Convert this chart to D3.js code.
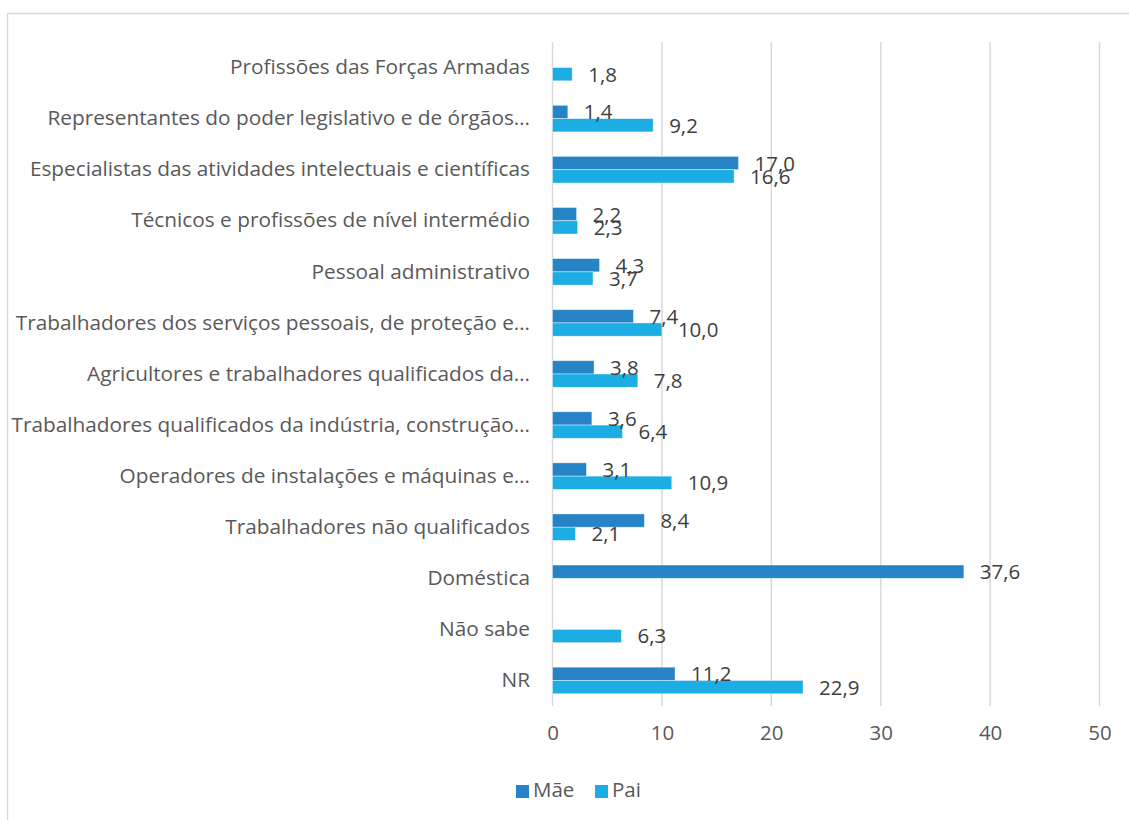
<!DOCTYPE html>
<html><head><meta charset="utf-8">
<script src="https://cdn.jsdelivr.net/npm/d3@7"></script>
<style>body{margin:0;background:#fff;} text{font-family:"Open Sans",sans-serif;}</style>
</head><body>
<svg id="c" width="1129" height="820"></svg>
<script>
const categories = [
  "Profissões das Forças Armadas",
  "Representantes do poder legislativo e de órgãos…",
  "Especialistas das atividades intelectuais e científicas",
  "Técnicos e profissões de nível intermédio",
  "Pessoal administrativo",
  "Trabalhadores dos serviços pessoais, de proteção e…",
  "Agricultores e trabalhadores qualificados da…",
  "Trabalhadores qualificados da indústria, construção…",
  "Operadores de instalações e máquinas e…",
  "Trabalhadores não qualificados",
  "Doméstica",
  "Não sabe",
  "NR"
];
const mae = [null, 1.4, 17.0, 2.2, 4.3, 7.4, 3.8, 3.6, 3.1, 8.4, 37.6, null, 11.2];
const pai = [1.8, 9.2, 16.6, 2.3, 3.7, 10.0, 7.8, 6.4, 10.9, 2.1, null, 6.3, 22.9];
const seriesNames = ["Mãe", "Pai"];
const seriesColors = ["#2683C6", "#1CADE4"];
const xTicks = [0, 10, 20, 30, 40, 50];

const svg = d3.select("#c");
// outer frame
svg.append("rect").attr("x", 7.5).attr("y", 13.5).attr("width", 1140).attr("height", 830)
  .attr("fill", "none").attr("stroke", "#d9d9d9").attr("stroke-width", 1.5);

const x = d3.scaleLinear().domain([0, 50]).range([552.5, 1099.5]);
const y = d3.scaleBand().domain(categories).range([42, 706]).paddingInner(0.48).paddingOuter(0.24);
const y1 = d3.scaleBand().domain(seriesNames).range([0, y.bandwidth()]);

// gridlines
svg.append("g").selectAll("line").data(xTicks).join("line")
  .attr("x1", d => x(d)).attr("x2", d => x(d)).attr("y1", 42).attr("y2", 706)
  .attr("stroke", "#d9d9d9").attr("stroke-width", 1.5);

// x axis labels
const xAxis = d3.axisBottom(x).tickValues(xTicks).tickSize(0).tickPadding(0).tickFormat(d3.format("d"));
const gx = svg.append("g").attr("transform", "translate(0,725)").call(xAxis);
gx.select(".domain").remove();
gx.selectAll("text").attr("fill", "#595959").style("font-size", "20.5px").attr("dy", "0.71em");

// y axis labels
const yAxis = d3.axisLeft(y).tickSize(0).tickPadding(0);
const gy = svg.append("g").attr("transform", "translate(530,0)").call(yAxis);
gy.select(".domain").remove();
gy.selectAll("text").attr("fill", "#595959").style("font-size", "20.8px");

const data = categories.map((c, i) => ({cat: c, vals: [
  {s: "Mãe", v: mae[i], color: seriesColors[0]},
  {s: "Pai", v: pai[i], color: seriesColors[1]}
].filter(d => d.v !== null)}));

const groups = svg.append("g").selectAll("g").data(data).join("g")
  .attr("transform", d => `translate(0,${y(d.cat)})`);

groups.selectAll("rect").data(d => d.vals).join("rect")
  .attr("x", x(0)).attr("y", d => y1(d.s)).attr("width", d => x(d.v) - x(0)).attr("height", y1.bandwidth())
  .attr("fill", d => d.color).attr("stroke", "rgba(255,255,255,0.5)").attr("stroke-width", 0.8);

groups.selectAll("text").data(d => d.vals).join("text")
  .attr("x", d => x(d.v) + 16).attr("y", d => y1(d.s) + y1.bandwidth()/2 + 2)
  .attr("dominant-baseline", "middle").attr("fill", "#404040").style("font-size", "20.5px")
  .text(d => d3.format(".1f")(d.v).replace(".", ","));

// legend
const lg = svg.append("g").attr("transform", "translate(516,785)");
const items = [{n: "Mãe", c: seriesColors[0], x: 0}, {n: "Pai", c: seriesColors[1], x: 79}];
items.forEach(it => {
  lg.append("rect").attr("x", it.x).attr("y", 0).attr("width", 13).attr("height", 13).attr("fill", it.c);
  lg.append("text").attr("x", it.x + 17).attr("y", 7).attr("dominant-baseline", "middle")
    .attr("fill", "#595959").style("font-size", "20.5px").text(it.n);
});
</script>
</body></html>
